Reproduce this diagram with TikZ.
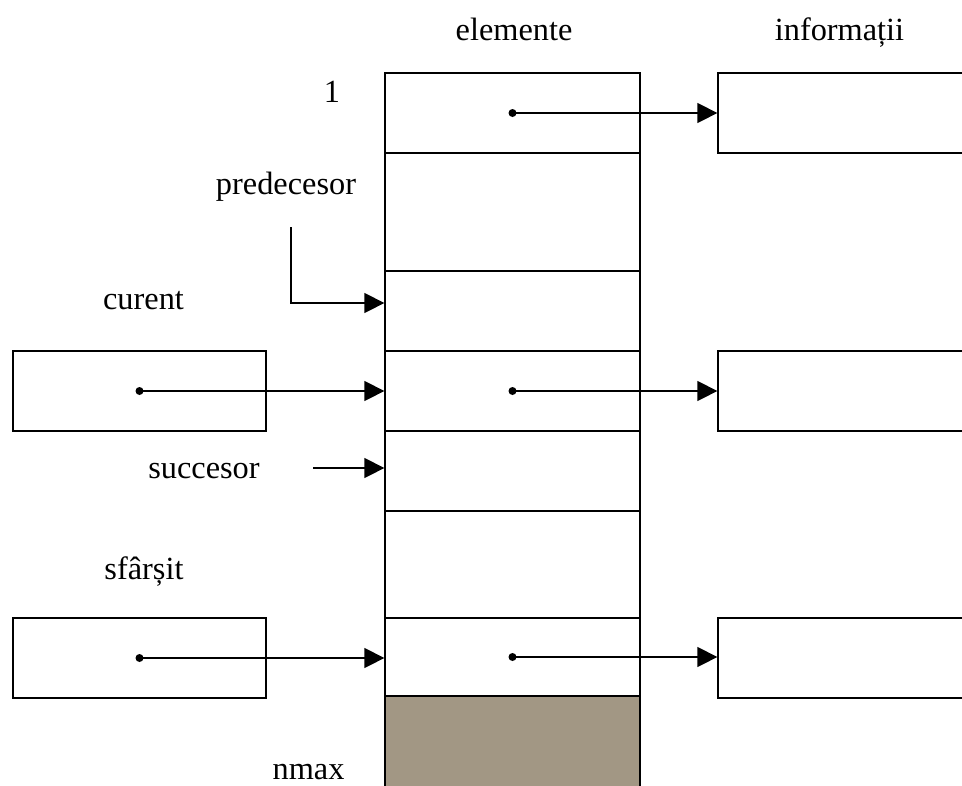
\documentclass[tikz,border=0pt]{standalone}
\usepackage{fontspec}
\setmainfont{Liberation Serif}
\usetikzlibrary{arrows.meta}
\definecolor{nmaxfill}{RGB}{162,151,132}
\tikzset{
    cell/.style={draw, line width=0.9pt, inner sep=0pt, minimum width=63.75mm},
    side/.style={draw, line width=0.9pt, inner sep=0pt, minimum width=63.25mm, minimum height=20mm},
    ptr/.style={line width=0.9pt, -{Triangle[length=5mm,width=5mm]}},
    lbl/.style={anchor=base, inner sep=0pt, font=\fontsize{23}{27}\selectfont},
}

\begin{document}
\begin{tikzpicture}[x=0.25mm, y=-0.25mm]
    \useasboundingbox (0,0) rectangle (962,785);
    \def\d{circle[radius=1mm]}
    % elemente
    \foreach \n/\y/\h in {e1/113/80, e2/212/118, e3/311/80, e4/391/80, e5/471/80, e6/564.5/107, e7/657/78}
        \node[cell, minimum height=\h*0.25mm] (\n) at (512.5,\y) {};
    \node[cell, fill=nmaxfill, minimum height=25mm] (e8) at (512.5,746) {};
    % informatii
    \foreach \n/\y in {i1/113, i4/391, i7/658}
        \node[cell, minimum width=64.25mm, minimum height=20mm] (\n) at (846.5,\y) {};
    % curent, sfarsit
    \node[side] (l4) at (139.5,391) {};
    \node[side] (l7) at (139.5,658) {};
    % labels
    \node[lbl] (telem) at (514,40) {elemente};
    \node[lbl] (tinfo) at (839.5,40) {informații};
    \node[lbl] (tone) at (332,102) {1};
    \node[lbl] (tpred) at (286,194) {predecesor};
    \node[lbl] (tcur) at (143.5,309) {curent};
    \node[lbl] (tsucc) at (204,478) {succesor};
    \node[lbl] (tsf) at (144,579) {sfârșit};
    \node[lbl] (tnmax) at (308.5,779) {nmax};
    % pointers
    \foreach \a/\b in {e1/i1, e4/i4, e7/i7, l4/e4, l7/e7} {
        \fill (\a.center) \d;
        \draw[ptr] (\a.center) -- (\a.center -| \b.west);
    }
    \coordinate (p) at (291,227);
    \draw[ptr] (p) |- ([yshift=2mm]e3.west);
    \coordinate (s) at (313,468);
    \draw[ptr] (s) -- (s -| e5.west);
\end{tikzpicture}
\end{document}
